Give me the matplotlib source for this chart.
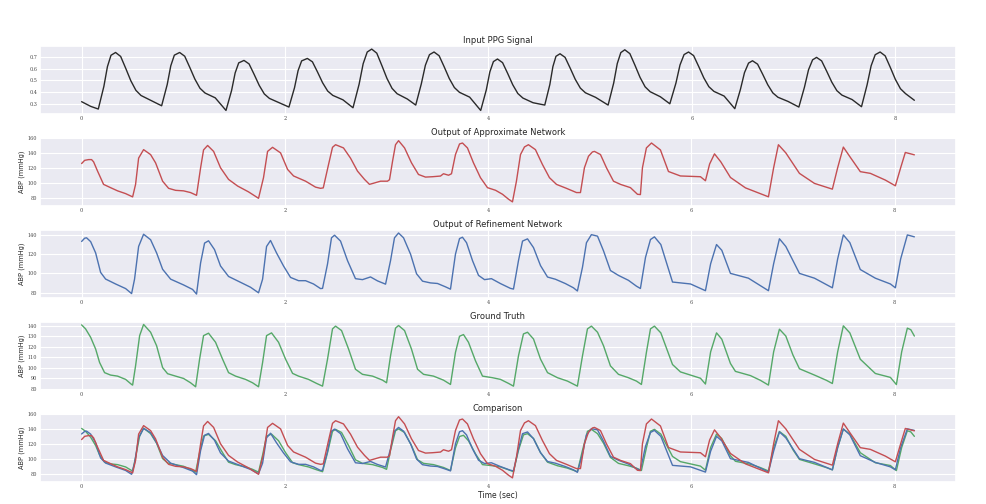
import matplotlib
matplotlib.use("Agg")
import matplotlib.pyplot as plt
import seaborn as sns

# --- data (time in sec) ---
ppg_t = [0.0, 0.089, 0.164, 0.219, 0.254, 0.289, 0.334, 0.384, 0.434, 0.484, 0.534, 0.584, 0.684,
         0.787, 0.842, 0.877, 0.912, 0.964, 1.014, 1.064, 1.114, 1.164, 1.214, 1.314,
         1.420, 1.475, 1.510, 1.545, 1.597, 1.647, 1.697, 1.747, 1.797, 1.847, 1.947,
         2.039, 2.094, 2.129, 2.164, 2.220, 2.270, 2.320, 2.370, 2.420, 2.470, 2.570,
         2.669, 2.729, 2.769, 2.809, 2.853, 2.903, 2.953, 3.003, 3.053, 3.103, 3.203,
         3.286, 3.341, 3.381, 3.421, 3.466, 3.516, 3.566, 3.616, 3.666, 3.716, 3.816,
         3.925, 3.980, 4.015, 4.050, 4.090, 4.140, 4.190, 4.240, 4.290, 4.340, 4.440,
         4.555, 4.605, 4.635, 4.665, 4.705, 4.755, 4.805, 4.855, 4.905, 4.955, 5.055,
         5.178, 5.233, 5.268, 5.303, 5.342, 5.392, 5.442, 5.492, 5.542, 5.592, 5.692,
         5.785, 5.845, 5.885, 5.925, 5.969, 6.019, 6.069, 6.119, 6.169, 6.219, 6.319,
         6.424, 6.479, 6.519, 6.559, 6.598, 6.648, 6.698, 6.748, 6.798, 6.848, 6.948,
         7.054, 7.109, 7.149, 7.189, 7.228, 7.278, 7.328, 7.378, 7.428, 7.478, 7.578,
         7.670, 7.725, 7.765, 7.805, 7.853, 7.903, 7.953, 8.003, 8.053, 8.103, 8.190]
ppg_v = [0.318, 0.278, 0.255, 0.449, 0.618, 0.715, 0.739, 0.705, 0.603, 0.497, 0.415, 0.371, 0.328,
         0.283, 0.465, 0.625, 0.716, 0.739, 0.707, 0.611, 0.511, 0.433, 0.392, 0.351,
         0.243, 0.414, 0.564, 0.650, 0.671, 0.641, 0.551, 0.457, 0.384, 0.346, 0.307,
         0.272, 0.438, 0.584, 0.667, 0.688, 0.659, 0.572, 0.480, 0.409, 0.372, 0.334,
         0.266, 0.467, 0.643, 0.743, 0.768, 0.733, 0.627, 0.517, 0.432, 0.386, 0.341,
         0.289, 0.471, 0.630, 0.720, 0.743, 0.711, 0.616, 0.516, 0.439, 0.398, 0.357,
         0.243, 0.419, 0.573, 0.661, 0.683, 0.652, 0.560, 0.463, 0.388, 0.349, 0.309,
         0.289, 0.465, 0.618, 0.706, 0.728, 0.697, 0.605, 0.509, 0.434, 0.394, 0.355,
         0.289, 0.478, 0.644, 0.738, 0.762, 0.729, 0.630, 0.526, 0.445, 0.403, 0.360,
         0.300, 0.477, 0.632, 0.721, 0.743, 0.712, 0.619, 0.522, 0.446, 0.406, 0.366,
         0.258, 0.422, 0.566, 0.648, 0.668, 0.639, 0.553, 0.463, 0.393, 0.356, 0.320,
         0.272, 0.442, 0.591, 0.676, 0.697, 0.667, 0.578, 0.485, 0.412, 0.374, 0.336,
         0.275, 0.462, 0.626, 0.720, 0.743, 0.710, 0.612, 0.509, 0.429, 0.387, 0.330]

approx_t = [0.0, 0.030, 0.069, 0.098, 0.118, 0.157, 0.216, 0.285, 0.354, 0.433, 0.502,
            0.531, 0.561, 0.610, 0.679, 0.728, 0.797, 0.856, 0.925, 1.003, 1.072, 1.131,
            1.171, 1.200, 1.240, 1.299, 1.367, 1.446, 1.535, 1.643, 1.741,
            1.790, 1.830, 1.879, 1.958, 2.027, 2.086, 2.204, 2.302, 2.351, 2.378,
            2.430, 2.469, 2.499, 2.577, 2.646, 2.715, 2.784, 2.833, 2.942, 3.010, 3.030,
            3.060, 3.089, 3.119, 3.178, 3.246, 3.315, 3.384, 3.453, 3.532, 3.561, 3.611, 3.640,
            3.679, 3.719, 3.748, 3.797, 3.856, 3.925, 3.994, 4.073, 4.142, 4.201, 4.240,
            4.279, 4.319, 4.358, 4.397, 4.466, 4.535, 4.604, 4.673, 4.771, 4.870, 4.909,
            4.948, 4.988, 5.027, 5.047, 5.106, 5.165, 5.234, 5.303, 5.401, 5.470, 5.499,
            5.519, 5.558, 5.608, 5.696, 5.775, 5.893, 6.090, 6.139,
            6.180, 6.228, 6.290, 6.385, 6.533, 6.759,
            6.810, 6.857, 6.930, 7.064, 7.212, 7.388,
            7.440, 7.496, 7.560, 7.663, 7.762, 7.909, 8.008,
            8.060, 8.106, 8.195]
approx_v = [125.7, 130.0, 131.0, 131.0, 128.0, 115.5, 97.7, 93.3, 89.0, 85.3, 80.9,
            97.7, 133.0, 144.4, 137.7, 126.6, 102.0, 92.4, 89.7, 89.0, 86.7, 83.0,
            120.0, 144.0, 150.0, 142.0, 120.0, 104.4, 95.5, 87.6, 79.0,
            106.7, 142.0, 147.5, 140.0, 117.8, 109.0, 102.0, 94.0, 92.4, 93.0,
            124.4, 147.5, 151.0, 146.7, 133.0, 115.5, 104.4, 97.7, 102.0, 102.0, 104.0,
            128.9, 151.0, 156.4, 146.7, 126.7, 111.0, 107.5, 108.0, 108.9, 112.0, 110.0, 112.0,
            137.8, 152.0, 153.3, 146.7, 126.7, 106.7, 93.3, 89.8, 84.4, 77.8, 74.2,
            102.0, 137.8, 148.0, 151.0, 144.4, 124.4, 106.7, 97.7, 92.4, 86.7, 86.7,
            120.0, 135.5, 141.3, 142.0, 137.8, 120.0, 102.0, 97.7, 93.3, 84.4, 84.0,
            120.0, 146.7, 153.3, 144.0, 115.0, 109.0, 108.0, 102.6,
            125.0, 138.7, 128.0, 107.0, 93.0, 81.0,
            120.0, 151.0, 140.0, 112.5, 99.0, 91.3,
            120.0, 147.8, 135.0, 114.8, 112.5, 103.5, 95.8,
            120.0, 140.6, 137.4]

refine_t = [0.0, 0.030, 0.049, 0.089, 0.138, 0.187, 0.236, 0.334, 0.433, 0.492,
            0.521, 0.561, 0.610, 0.679, 0.738, 0.797, 0.876, 1.003, 1.092, 1.131,
            1.171, 1.210, 1.249, 1.308, 1.367, 1.446, 1.564, 1.662, 1.741,
            1.781, 1.820, 1.859, 1.918, 1.987, 2.056, 2.135, 2.204, 2.282, 2.351, 2.371,
            2.420, 2.459, 2.489, 2.548, 2.617, 2.695, 2.764, 2.843, 2.912, 2.991,
            3.040, 3.079, 3.119, 3.168, 3.237, 3.296, 3.355, 3.433, 3.502, 3.581, 3.630,
            3.679, 3.719, 3.748, 3.788, 3.847, 3.906, 3.965, 4.033, 4.122, 4.220, 4.250,
            4.299, 4.339, 4.388, 4.447, 4.516, 4.585, 4.663, 4.761, 4.840, 4.879,
            4.929, 4.968, 5.017, 5.077, 5.136, 5.204, 5.283, 5.381, 5.460, 5.499,
            5.549, 5.598, 5.637, 5.700, 5.815, 5.992, 6.139,
            6.190, 6.248, 6.300, 6.385, 6.562, 6.759,
            6.810, 6.867, 6.930, 7.064, 7.212, 7.388,
            7.440, 7.496, 7.560, 7.663, 7.811, 7.959, 8.008,
            8.060, 8.126, 8.195]
refine_v = [133.2, 136.6, 137.0, 133.0, 121.3, 101.0, 94.1, 89.0, 84.2, 79.0,
            94.0, 128.0, 140.7, 135.0, 121.3, 104.3, 94.0, 88.0, 83.3, 78.5,
            111.0, 131.5, 133.9, 124.7, 107.7, 96.8, 90.7, 85.6, 79.8,
            94.0, 128.0, 134.2, 121.3, 107.7, 95.8, 92.4, 92.4, 89.0, 84.2, 84.4,
            109.8, 137.0, 139.7, 133.6, 113.2, 94.5, 93.5, 96.3, 92.2, 88.8,
            113.2, 137.0, 142.0, 137.0, 120.0, 99.6, 91.9, 90.1, 89.5, 86.0, 83.6,
            120.0, 136.2, 137.6, 131.9, 113.2, 97.9, 93.5, 94.5, 89.4, 84.4, 83.7,
            113.2, 133.6, 135.9, 126.8, 108.1, 96.2, 93.9, 89.4, 85.0, 81.7,
            106.4, 131.9, 140.3, 138.7, 123.4, 103.0, 97.9, 92.8, 86.7, 84.3,
            116.6, 135.2, 138.0, 130.0, 91.0, 89.0, 82.0,
            110.0, 130.0, 124.0, 100.0, 95.0, 82.0,
            110.0, 136.0, 128.0, 100.0, 95.0, 85.0,
            115.0, 140.0, 132.0, 104.0, 95.0, 89.0, 85.0,
            115.0, 140.0, 138.0]

truth_t = [0.0, 0.039, 0.089, 0.138, 0.177, 0.226, 0.285, 0.354, 0.433, 0.492, 0.502,
           0.531, 0.571, 0.610, 0.679, 0.738, 0.797, 0.846, 0.925, 1.003, 1.072, 1.122,
           1.161, 1.200, 1.249, 1.318, 1.387, 1.446, 1.515, 1.613, 1.682, 1.741,
           1.781, 1.820, 1.869, 1.938, 2.007, 2.076, 2.135, 2.233, 2.312, 2.371,
           2.420, 2.469, 2.499, 2.558, 2.627, 2.695, 2.764, 2.863, 2.961, 3.001,
           3.040, 3.089, 3.119, 3.178, 3.246, 3.306, 3.365, 3.463, 3.561, 3.630,
           3.679, 3.719, 3.758, 3.807, 3.876, 3.945, 4.043, 4.122, 4.201, 4.250,
           4.299, 4.348, 4.388, 4.447, 4.516, 4.585, 4.683, 4.781, 4.879,
           4.929, 4.978, 5.017, 5.077, 5.136, 5.204, 5.283, 5.381, 5.460, 5.509,
           5.558, 5.598, 5.637, 5.700, 5.815, 5.893, 6.090, 6.139,
           6.190, 6.248, 6.300, 6.385, 6.434, 6.582, 6.680, 6.759,
           6.810, 6.867, 6.930, 7.000, 7.064, 7.212, 7.330, 7.388,
           7.440, 7.496, 7.560, 7.663, 7.811, 7.959, 8.018,
           8.070, 8.126, 8.160, 8.195]
truth_v = [140.6, 136.8, 128.8, 117.7, 104.9, 95.3, 93.0, 92.0, 88.9, 84.1, 83.5,
           101.7, 130.4, 141.0, 133.6, 120.8, 100.1, 94.3, 92.0, 89.8, 85.7, 81.9,
           108.1, 130.4, 132.7, 124.1, 108.1, 95.3, 92.0, 88.9, 85.7, 81.9,
           104.9, 130.4, 133.0, 124.1, 108.1, 94.6, 92.0, 88.9, 85.1, 82.5,
           108.1, 136.8, 139.4, 135.2, 117.7, 98.5, 93.7, 92.0, 88.2, 85.7,
           111.2, 137.5, 140.0, 135.2, 117.7, 98.5, 93.7, 92.0, 88.2, 84.1,
           114.5, 129.8, 131.4, 124.1, 106.5, 92.0, 90.5, 88.9, 85.1, 82.5,
           111.2, 132.0, 133.6, 127.2, 108.1, 95.3, 90.5, 87.3, 82.5,
           111.2, 136.8, 139.4, 133.6, 120.8, 101.7, 93.7, 90.5, 87.3, 84.1,
           114.5, 136.8, 139.4, 133.0, 103.0, 96.0, 90.0, 84.5,
           115.0, 133.0, 127.0, 104.0, 96.5, 92.5, 88.0, 83.5,
           115.0, 136.5, 130.0, 112.0, 99.0, 93.0, 88.0, 85.0,
           115.0, 139.7, 133.0, 108.0, 94.5, 90.8, 84.0,
           115.0, 137.5, 136.0, 130.0]

x_ticks = [0, 2, 4, 6, 8]
ppg_ticks = [0.3, 0.4, 0.5, 0.6, 0.7]
approx_ticks = [80, 100, 120, 140, 160]
refine_ticks = [80, 100, 120, 140]
truth_ticks = [80, 90, 100, 110, 120, 130, 140]
compare_ticks = [80, 100, 120, 140, 160]

sns.set_theme(style="darkgrid")
plt.rcParams['font.family'] = ['DejaVu Sans']

C_RED = '#C44E52'
C_BLUE = '#4C72B0'
C_GREEN = '#55A868'

fig, axes = plt.subplots(5, 1, figsize=(9.87, 5.04), dpi=100)
fig.subplots_adjust(left=0.0405, right=0.9686, top=0.9087, bottom=0.0446, hspace=0.363)

panels = [
    ("Input PPG Signal", [(ppg_t, ppg_v, '#2a2a2a')], ppg_ticks, None),
    ("Output of Approximate Network", [(approx_t, approx_v, C_RED)], approx_ticks, "ABP (mmHg)"),
    ("Output of Refinement Network", [(refine_t, refine_v, C_BLUE)], refine_ticks, "ABP (mmHg)"),
    ("Ground Truth", [(truth_t, truth_v, C_GREEN)], truth_ticks, "ABP (mmHg)"),
    ("Comparison", [(truth_t, truth_v, C_GREEN), (refine_t, refine_v, C_BLUE),
                    (approx_t, approx_v, C_RED)], compare_ticks, "ABP (mmHg)"),
]

for ax, (title, lines, yt, ylab) in zip(axes, panels):
    for t, v, c in lines:
        ax.plot(t, v, color=c, lw=1.0)
    ax.set_title(title, fontsize=6, pad=2.5)
    ax.set_xticks(x_ticks)
    ax.set_yticks(yt)
    ax.tick_params(axis='both', labelsize=3.5, pad=2, length=0, labelcolor='#444444')
    for lab in ax.get_xticklabels() + ax.get_yticklabels():
        lab.set_family('DejaVu Serif')
    if ylab:
        ax.set_ylabel(ylab, fontsize=4.8, labelpad=2)
    ax.grid(color='white', lw=0.8)

# y ranges follow the reference panels
axes[1].set_ylim(69.3, 160.0)
axes[2].set_ylim(74.9, 145.1)
axes[3].set_ylim(79.3, 143.3)
axes[4].set_ylim(69.3, 160.0)

axes[4].set_xlabel("Time (sec)", fontsize=5.5, labelpad=1)

fig.savefig("out.png", dpi=100, facecolor='white')
